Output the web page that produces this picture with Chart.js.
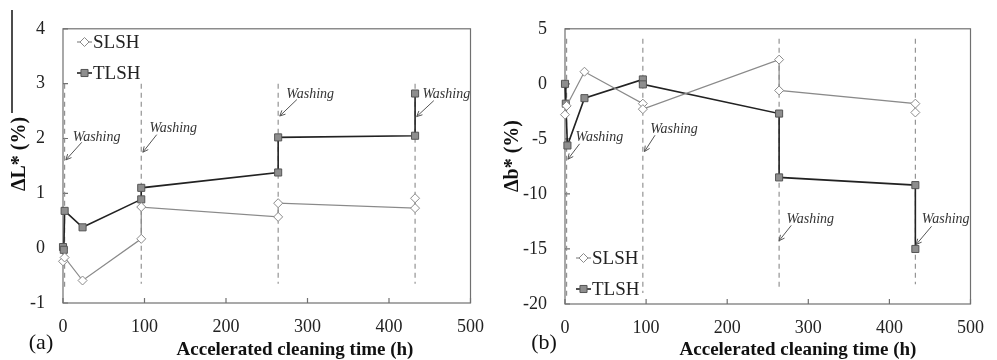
<!DOCTYPE html>
<html lang="en">
<head>
<meta charset="UTF-8">
<title>Colour change during accelerated cleaning</title>
<script src="https://cdn.jsdelivr.net/npm/chart.js"></script>
<style>
  body { margin: 0; background: #fff; }
  canvas { position: absolute; top: 0; }
</style>
</head>
<body>
<canvas id="chartL" width="497" height="360" style="left:0"></canvas>
<canvas id="chartB" width="500" height="360" style="left:497px"></canvas>
<script>
// (a) lightness change, ΔL* (%)
const lTimeSLSH = [0, 2, 24, 96, 96, 264, 264, 432, 432];
const lSLSH = [-0.24, -0.17, -0.59, 0.17, 0.75, 0.57, 0.82, 0.73, 0.91];
const lTimeTLSH = [0, 1, 2, 24, 96, 96, 264, 264, 432, 432];
const lTLSH = [0.02, -0.03, 0.68, 0.38, 0.89, 1.1, 1.38, 2.02, 2.05, 2.82];

// (b) yellowness change, Δb* (%)
const bTimeSLSH = [0, 2, 24, 96, 96, 264, 264, 432, 432];
const bSLSH = [-2.8, -2.0, 1.1, -1.8, -2.3, 2.2, -0.6, -1.8, -2.6];
const bTimeTLSH = [0, 1, 3, 24, 96, 96, 264, 264, 432, 432];
const bTLSH = [0, -1.8, -5.6, -1.3, 0.4, -0.05, -2.7, -8.5, -9.2, -15];

// washing cycles (h)
const washTimes = [2, 96, 264, 432];
const washTopL = 3, washBottomL = [-0.75, -0.65, -0.65, -0.65];
const washTopB = 4.1, washBottomB = [-19.6, -19, -18.5, -18.2];

const xTicks = [0, 100, 200, 300, 400, 500];
const yTicksL = [-1, 0, 1, 2, 3, 4];
const yTicksB = [-20, -15, -10, -5, 0, 5];

const SERIF = "'Liberation Serif', 'Times New Roman', serif";

const slshStyle = {
  label: 'SLSH', showLine: true, borderColor: '#8a8a8a', borderWidth: 1.2,
  pointStyle: 'rectRot', pointRadius: 4.5, pointBackgroundColor: '#fff',
  pointBorderColor: '#8a8a8a', pointBorderWidth: 1, clip: false
};
const tlshStyle = {
  label: 'TLSH', showLine: true, borderColor: '#222', borderWidth: 1.6,
  pointStyle: 'rect', pointRadius: 5, pointBackgroundColor: '#8e8e8e',
  pointBorderColor: '#555', pointBorderWidth: 1, clip: false
};

const pairs = (xs, ys) => xs.map((x, i) => ({ x, y: ys[i] }));

function washLines(top, bottoms) {
  return washTimes.map((t, i) => ({
    label: 'wash', showLine: true, pointRadius: 0, borderColor: '#8a8a8a',
    borderWidth: 1.1, borderDash: [5, 4], clip: false,
    data: [{ x: t, y: top }, { x: t, y: bottoms[i] }]
  }));
}

function marker(ctx, style, x, y) {
  const r = style.pointRadius;
  ctx.beginPath();
  if (style.pointStyle === 'rectRot') {
    ctx.moveTo(x, y - r); ctx.lineTo(x + r, y); ctx.lineTo(x, y + r); ctx.lineTo(x - r, y);
    ctx.closePath();
  } else {
    const s = r * Math.SQRT1_2;
    ctx.rect(x - s, y - s, 2 * s, 2 * s);
  }
  ctx.fillStyle = style.pointBackgroundColor;
  ctx.fill();
  ctx.lineWidth = style.pointBorderWidth;
  ctx.strokeStyle = style.pointBorderColor;
  ctx.stroke();
}

// frame, inner ticks, labels, washing notes and legend
const decor = {
  id: 'decor',
  beforeDatasetsDraw(chart) {
    const { ctx, chartArea: a, scales: { x, y } } = chart;
    ctx.save();
    ctx.strokeStyle = '#707070';
    ctx.lineWidth = 1.2;
    ctx.strokeRect(a.left, a.top, a.right - a.left, a.bottom - a.top);
    ctx.beginPath();
    x.ticks.forEach(t => {
      const px = x.getPixelForValue(t.value);
      ctx.moveTo(px, a.bottom); ctx.lineTo(px, a.bottom - 5);
    });
    y.ticks.forEach(t => {
      const py = y.getPixelForValue(t.value);
      ctx.moveTo(a.left, py); ctx.lineTo(a.left + 5, py);
    });
    ctx.stroke();
    ctx.restore();
  },
  afterDraw(chart, args, o) {
    const { ctx, scales: { x, y } } = chart;
    ctx.save();
    ctx.fillStyle = '#111';
    ctx.textBaseline = 'middle';
    ctx.textAlign = 'center';

    ctx.font = '22px ' + SERIF;
    ctx.fillText(o.panel, o.panelPos[0], o.panelPos[1]);

    ctx.font = 'bold 19px ' + SERIF;
    ctx.fillText('Accelerated cleaning time (h)', o.xTitlePos[0], o.xTitlePos[1]);

    ctx.save();
    ctx.translate(o.yTitlePos[0], o.yTitlePos[1]);
    ctx.rotate(-Math.PI / 2);
    ctx.font = 'bold 20px ' + SERIF;
    ctx.fillText(o.yTitle, 0, 0);
    ctx.restore();

    if (o.edgeLine) {
      ctx.strokeStyle = '#111';
      ctx.lineWidth = 1.5;
      ctx.beginPath();
      ctx.moveTo(o.edgeLine[0], o.edgeLine[1]);
      ctx.lineTo(o.edgeLine[0], o.edgeLine[2]);
      ctx.stroke();
    }

    // "Washing" notes with arrows, placed in data units
    ctx.textAlign = 'left';
    ctx.font = 'italic 14px ' + SERIF;
    ctx.strokeStyle = '#555';
    ctx.lineWidth = 1;
    o.notes.forEach(n => {
      ctx.fillStyle = '#333';
      ctx.fillText('Washing', x.getPixelForValue(n.tx), y.getPixelForValue(n.ty));
      const x0 = x.getPixelForValue(n.fx), y0 = y.getPixelForValue(n.fy);
      const x1 = x.getPixelForValue(n.ax), y1 = y.getPixelForValue(n.ay);
      const ang = Math.atan2(y1 - y0, x1 - x0);
      ctx.beginPath();
      ctx.moveTo(x0, y0); ctx.lineTo(x1, y1);
      [0.45, -0.45].forEach(d => {
        ctx.moveTo(x1, y1);
        ctx.lineTo(x1 - 6 * Math.cos(ang + d), y1 - 6 * Math.sin(ang + d));
      });
      ctx.stroke();
    });

    // legend
    ctx.font = '19px ' + SERIF;
    [slshStyle, tlshStyle].forEach((s, i) => {
      const lx = o.legend[0], ly = o.legend[1] + i * o.legend[2];
      ctx.strokeStyle = s.borderColor;
      ctx.lineWidth = s.borderWidth;
      ctx.beginPath();
      ctx.moveTo(lx, ly); ctx.lineTo(lx + 15, ly);
      ctx.stroke();
      marker(ctx, s, lx + 7.5, ly);
      ctx.fillStyle = '#222';
      ctx.fillText(s.label, lx + 16, ly + 1);
    });
    ctx.restore();
  }
};

function makeChart(id, cfg) {
  return new Chart(document.getElementById(id), {
    type: 'scatter',
    data: {
      datasets: [
        Object.assign({}, slshStyle, { data: pairs(cfg.tS, cfg.vS) }),
        Object.assign({}, tlshStyle, { data: pairs(cfg.tT, cfg.vT) }),
        ...cfg.wash
      ]
    },
    options: {
      responsive: false,
      animation: false,
      layout: { padding: { top: cfg.padTop, right: cfg.padRight, left: 0, bottom: 0 } },
      scales: {
        x: {
          type: 'linear', min: 0, max: 500,
          afterBuildTicks: s => { s.ticks = xTicks.map(v => ({ value: v })); },
          afterFit: s => { s.height = cfg.xHeight; },
          grid: { display: false, drawTicks: false }, border: { display: false },
          ticks: { padding: 13, color: '#222', font: { family: SERIF, size: 18 }, maxRotation: 0 }
        },
        y: {
          type: 'linear', min: cfg.yTicks[0], max: cfg.yTicks[cfg.yTicks.length - 1],
          afterBuildTicks: s => { s.ticks = cfg.yTicks.map(v => ({ value: v })); },
          afterFit: s => { s.width = cfg.yWidth; },
          grid: { display: false, drawTicks: false }, border: { display: false },
          ticks: { padding: 18, color: '#222', font: { family: SERIF, size: 18 } }
        }
      },
      plugins: {
        legend: { display: false },
        tooltip: { enabled: false },
        decor: cfg.decor
      }
    },
    plugins: [decor]
  });
}

makeChart('chartL', {
  tS: lTimeSLSH, vS: lSLSH, tT: lTimeTLSH, vT: lTLSH,
  wash: washLines(washTopL, washBottomL),
  yTicks: yTicksL, padTop: 16, padRight: 16, xHeight: 57, yWidth: 63,
  decor: {
    panel: '(a)', panelPos: [41, 343],
    xTitlePos: [295, 350],
    yTitle: 'ΔL* (%)', yTitlePos: [20, 154],
    edgeLine: [12, 10, 113],
    legend: [77, 42, 31],
    notes: [
      { tx: 12, ty: 2.03, fx: 23, fy: 1.93, ax: 3.6, ay: 1.61 },
      { tx: 106, ty: 2.19, fx: 115, fy: 2.07, ax: 98, ay: 1.75 },
      { tx: 274, ty: 2.8, fx: 287, fy: 2.71, ax: 266, ay: 2.41 },
      { tx: 441, ty: 2.8, fx: 455, fy: 2.69, ax: 434, ay: 2.4 }
    ]
  }
});

makeChart('chartB', {
  tS: bTimeSLSH, vS: bSLSH, tT: bTimeTLSH, vT: bTLSH,
  wash: washLines(washTopB, washBottomB),
  yTicks: yTicksB, padTop: 17, padRight: 14, xHeight: 56, yWidth: 68,
  decor: {
    panel: '(b)', panelPos: [47, 343],
    xTitlePos: [301, 350],
    yTitle: 'Δb* (%)', yTitlePos: [16, 156],
    legend: [79, 258, 31],
    notes: [
      { tx: 13, ty: -4.84, fx: 18, fy: -5.45, ax: 3.6, ay: -6.85 },
      { tx: 105, ty: -4.15, fx: 111, fy: -4.67, ax: 98, ay: -6.15 },
      { tx: 273, ty: -12.33, fx: 279, fy: -12.86, ax: 264, ay: -14.25 },
      { tx: 440, ty: -12.33, fx: 452, fy: -12.94, ax: 433, ay: -14.6 }
    ]
  }
});
</script>
</body>
</html>
